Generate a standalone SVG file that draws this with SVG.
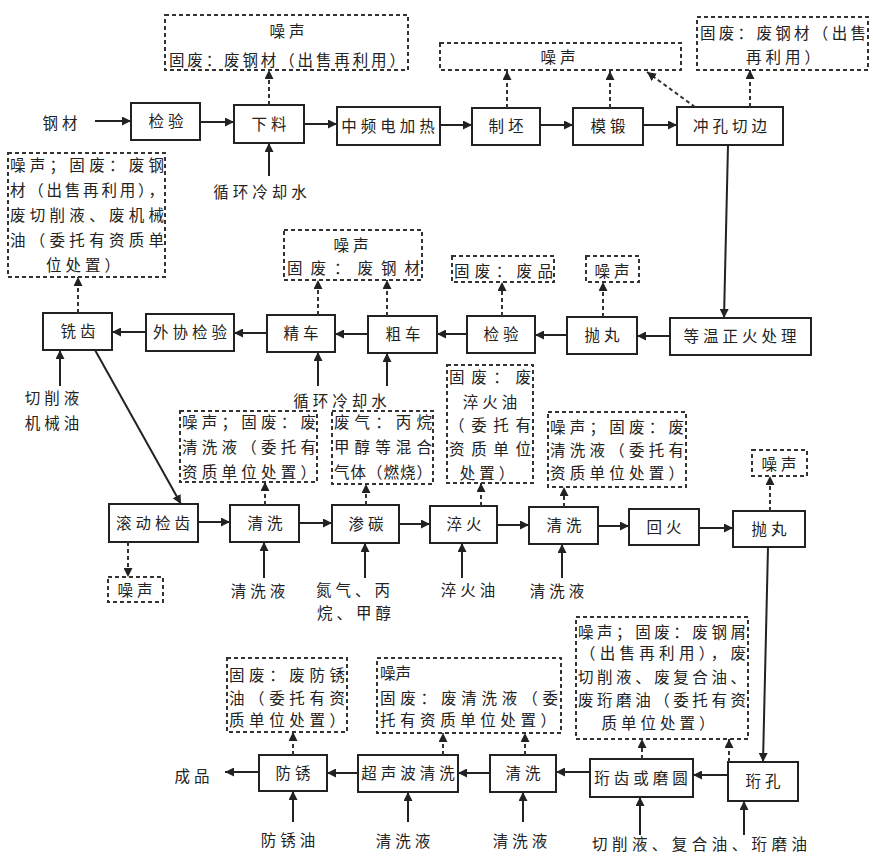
<svg xmlns="http://www.w3.org/2000/svg" width="873" height="856" viewBox="0 0 873 856">
<defs>
<marker id="a" viewBox="0 0 10 10" refX="10" refY="5" markerWidth="9" markerHeight="9" markerUnits="userSpaceOnUse" orient="auto"><path d="M0,0 L10,5 L0,10 z" fill="#222"/></marker>
</defs>
<style>
.n{fill:#fff;stroke:#222;stroke-width:2}
.d{fill:#fff;stroke:#333;stroke-width:2;stroke-dasharray:4 3}
text{font-family:"Noto Sans CJK SC","Noto Sans CJK JP",sans-serif;font-size:15.5px;fill:#222}
.c{text-anchor:middle;letter-spacing:4px}
.s{stroke:#222;stroke-width:2;fill:none;marker-end:url(#a)}
.k{stroke:#333;stroke-width:2;fill:none;stroke-dasharray:4 3;marker-end:url(#a)}
</style>
<rect width="873" height="856" fill="#fff"/>

<!-- Row 1 nodes -->
<g id="jianyan1"><rect class="n" x="131" y="103" width="69" height="37"/><text class="c" x="168" y="127">检验</text></g>
<g id="xialiao"><rect class="n" x="234" y="105" width="70" height="38"/><text class="c" x="271" y="130">下料</text></g>
<g id="zhongpin"><rect class="n" x="337" y="107" width="103" height="38"/><text class="c" x="390" y="132">中频电加热</text></g>
<g id="zhipi"><rect class="n" x="472" y="108" width="68" height="37"/><text class="c" x="508" y="132">制坯</text></g>
<g id="moduan"><rect class="n" x="573" y="108" width="70" height="37"/><text class="c" x="610" y="132">模锻</text></g>
<g id="chongkong"><rect class="n" x="677" y="107" width="106" height="38"/><text class="c" x="732" y="132">冲孔切边</text></g>

<!-- Row 1 dashed boxes -->
<g id="w1"><rect class="d" x="165" y="15" width="243" height="55"/><text class="c" x="289" y="37">噪声</text><text x="169" y="66" textLength="236">固废：废钢材（出售再利用）</text></g>
<g id="w2"><rect class="d" x="440" y="43" width="241" height="27"/><text class="c" x="560" y="63">噪声</text></g>
<g id="w3"><rect class="d" x="697" y="17" width="171" height="53"/><text x="700" y="39" textLength="166">固废：废钢材（出售</text><text class="c" x="785" y="63">再利用）</text></g>

<!-- Row 2 nodes -->
<g id="zhenghuo"><rect class="n" x="670" y="318" width="141" height="37"/><text class="c" x="742" y="342">等温正火处理</text></g>
<g id="paowan1"><rect class="n" x="567" y="317" width="70" height="37"/><text class="c" x="604" y="341">抛丸</text></g>
<g id="jianyan2"><rect class="n" x="467" y="316" width="68" height="37"/><text class="c" x="503" y="340">检验</text></g>
<g id="cuche"><rect class="n" x="368" y="316" width="69" height="37"/><text class="c" x="405" y="340">粗车</text></g>
<g id="jingche"><rect class="n" x="267" y="315" width="68" height="37"/><text class="c" x="303" y="339">精车</text></g>
<g id="waixie"><rect class="n" x="146" y="314" width="88" height="37"/><text class="c" x="192" y="338">外协检验</text></g>
<g id="xichi"><rect class="n" x="43" y="313" width="69" height="37"/><text class="c" x="80" y="337">铣齿</text></g>

<!-- Row 2 dashed boxes -->
<g id="w4"><rect class="d" x="8" y="153" width="157" height="124"/>
<text x="10" y="171" textLength="154">噪声；固废：废钢</text>
<text x="10" y="196" textLength="154">材（出售再利用），</text>
<text x="10" y="221" textLength="154">废切削液、废机械</text>
<text x="10" y="246" textLength="154">油（委托有资质单</text>
<text class="c" x="85" y="271">位处置）</text></g>
<g id="w5"><rect class="d" x="284" y="230" width="138" height="50"/><text class="c" x="353" y="251">噪声</text><text x="287" y="274" textLength="133">固废：废钢材</text></g>
<g id="w6"><rect class="d" x="452" y="256" width="102" height="26"/><text x="454" y="277" textLength="99">固废：废品</text></g>
<g id="w7"><rect class="d" x="586" y="256" width="53" height="26"/><text class="c" x="614" y="277">噪声</text></g>

<!-- Row 3 nodes -->
<g id="gundong"><rect class="n" x="109" y="504" width="89" height="38"/><text class="c" x="155" y="529">滚动检齿</text></g>
<g id="qingxi1"><rect class="n" x="230" y="505" width="69" height="37"/><text class="c" x="267" y="529">清洗</text></g>
<g id="shentan"><rect class="n" x="332" y="505" width="67" height="38"/><text class="c" x="368" y="530">渗碳</text></g>
<g id="cuihuo"><rect class="n" x="430" y="506" width="67" height="37"/><text class="c" x="466" y="530">淬火</text></g>
<g id="qingxi2"><rect class="n" x="529" y="507" width="69" height="37"/><text class="c" x="566" y="531">清洗</text></g>
<g id="huihuo"><rect class="n" x="629" y="509" width="70" height="36"/><text class="c" x="666" y="533">回火</text></g>
<g id="paowan2"><rect class="n" x="733" y="511" width="72" height="36"/><text class="c" x="771" y="535">抛丸</text></g>

<!-- Row 3 dashed boxes -->
<g id="w8"><rect class="d" x="180" y="411" width="137" height="71"/>
<text x="182" y="428" textLength="134">噪声；固废：废</text>
<text x="182" y="453" textLength="134">清洗液（委托有</text>
<text x="182" y="478" textLength="134">资质单位处置）</text></g>
<g id="w9"><rect class="d" x="332" y="411" width="101" height="73"/>
<text x="334" y="428" textLength="98">废气：丙烷</text>
<text x="334" y="453" textLength="98">甲醇等混合</text>
<text x="334" y="478" textLength="98">气体（燃烧）</text></g>
<g id="w10"><rect class="d" x="447" y="365" width="86" height="118"/>
<text x="449" y="383" textLength="82">固废：废</text>
<text class="c" x="492" y="408">淬火油</text>
<text x="449" y="431" textLength="82">（委托有</text>
<text x="449" y="455" textLength="82">资质单位</text>
<text class="c" x="489" y="479">处置）</text></g>
<g id="w11"><rect class="d" x="548" y="412" width="138" height="75"/>
<text x="550" y="433" textLength="134">噪声；固废：废</text>
<text x="550" y="456" textLength="134">清洗液（委托有</text>
<text x="550" y="479" textLength="134">资质单位处置）</text></g>
<g id="w12"><rect class="d" x="752" y="450" width="55" height="26"/><text class="c" x="781" y="470">噪声</text></g>
<g id="w13"><rect class="d" x="108" y="577" width="55" height="25"/><text class="c" x="137" y="596">噪声</text></g>

<!-- Row 4 nodes -->
<g id="honkong"><rect class="n" x="728" y="762" width="70" height="39"/><text class="c" x="765" y="787">珩孔</text></g>
<g id="honchi"><rect class="n" x="590" y="759" width="103" height="38"/><text class="c" x="643" y="784">珩齿或磨圆</text></g>
<g id="qingxi3"><rect class="n" x="490" y="755" width="66" height="37"/><text class="c" x="525" y="779">清洗</text></g>
<g id="chaosheng"><rect class="n" x="358" y="755" width="100" height="37"/><text class="c" x="410" y="779">超声波清洗</text></g>
<g id="fangxiu"><rect class="n" x="259" y="755" width="68" height="36"/><text class="c" x="295" y="779">防锈</text></g>

<!-- Row 4 dashed boxes -->
<g id="w14"><rect class="d" x="227" y="658" width="120" height="74"/>
<text x="229" y="681" textLength="116">固废：废防锈</text>
<text x="229" y="704" textLength="116">油（委托有资</text>
<text x="229" y="726" textLength="116">质单位处置）</text></g>
<g id="w15"><rect class="d" x="377" y="658" width="184" height="75"/>
<text x="380" y="679">噪声</text>
<text x="380" y="704" textLength="178">固废：废清洗液（委</text>
<text x="380" y="726" textLength="176">托有资质单位处置）</text></g>
<g id="w16"><rect class="d" x="576" y="617" width="172" height="122"/>
<text x="578" y="638" textLength="168">噪声；固废：废钢屑</text>
<text x="580" y="659" textLength="166">（出售再利用），废</text>
<text x="578" y="683" textLength="168">切削液、废复合油、</text>
<text x="578" y="706" textLength="168">废珩磨油（委托有资</text>
<text class="c" x="660" y="729">质单位处置）</text></g>

<!-- Free labels -->
<g id="labels">
<text class="c" x="62" y="129">钢材</text>
<text class="c" x="262" y="198">循环冷却水</text>
<text class="c" x="342" y="407">循环冷却水</text>
<text class="c" x="54" y="404">切削液</text>
<text class="c" x="54" y="429">机械油</text>
<text class="c" x="260" y="597">清洗液</text>
<text class="c" x="355" y="596">氮气、丙</text>
<text class="c" x="356" y="619">烷、甲醇</text>
<text class="c" x="470" y="596">淬火油</text>
<text class="c" x="559" y="597">清洗液</text>
<text class="c" x="194" y="782">成品</text>
<text class="c" x="290" y="846">防锈油</text>
<text class="c" x="405" y="847">清洗液</text>
<text class="c" x="522" y="847">清洗液</text>
<text x="592" y="850" textLength="215">切削液、复合油、珩磨油</text>
</g>

<!-- Connectors -->
<g id="connectors">
<line class="s" x1="95" y1="121" x2="131" y2="121"/>
<line class="s" x1="200" y1="122" x2="234" y2="122"/>
<line class="s" x1="304" y1="124" x2="337" y2="124"/>
<line class="s" x1="440" y1="125" x2="472" y2="125"/>
<line class="s" x1="540" y1="125" x2="573" y2="125"/>
<line class="s" x1="643" y1="125" x2="677" y2="125"/>
<line class="s" x1="269" y1="176" x2="269" y2="143"/>
<line class="k" x1="269" y1="105" x2="269" y2="70"/>
<line class="k" x1="507" y1="108" x2="507" y2="71"/>
<line class="k" x1="610" y1="108" x2="610" y2="71"/>
<line class="k" x1="695" y1="107" x2="647" y2="72"/>
<line class="k" x1="750" y1="107" x2="750" y2="70"/>
<line class="s" x1="728" y1="145" x2="724" y2="318"/>

<line class="s" x1="670" y1="336" x2="637" y2="336"/>
<line class="s" x1="567" y1="335" x2="535" y2="335"/>
<line class="s" x1="467" y1="334" x2="437" y2="334"/>
<line class="s" x1="368" y1="334" x2="335" y2="334"/>
<line class="s" x1="267" y1="333" x2="234" y2="333"/>
<line class="s" x1="146" y1="332" x2="112" y2="332"/>
<line class="k" x1="78" y1="313" x2="78" y2="277"/>
<line class="k" x1="318" y1="315" x2="318" y2="280"/>
<line class="k" x1="387" y1="316" x2="387" y2="280"/>
<line class="k" x1="502" y1="316" x2="502" y2="282"/>
<line class="k" x1="603" y1="317" x2="603" y2="282"/>
<line class="s" x1="318" y1="386" x2="318" y2="352"/>
<line class="s" x1="387" y1="386" x2="387" y2="353"/>
<line class="s" x1="60" y1="386" x2="60" y2="350"/>
<line class="s" x1="95" y1="350" x2="181" y2="504"/>

<line class="s" x1="198" y1="522" x2="230" y2="522"/>
<line class="s" x1="299" y1="523" x2="332" y2="523"/>
<line class="s" x1="399" y1="524" x2="430" y2="524"/>
<line class="s" x1="497" y1="525" x2="529" y2="525"/>
<line class="s" x1="598" y1="526" x2="629" y2="526"/>
<line class="s" x1="699" y1="528" x2="733" y2="528"/>
<line class="k" x1="265" y1="505" x2="265" y2="482"/>
<line class="k" x1="366" y1="505" x2="366" y2="484"/>
<line class="k" x1="481" y1="506" x2="481" y2="483"/>
<line class="k" x1="564" y1="507" x2="564" y2="487"/>
<line class="k" x1="770" y1="511" x2="770" y2="476"/>
<line class="k" x1="128" y1="542" x2="128" y2="577"/>
<line class="s" x1="264" y1="578" x2="264" y2="542"/>
<line class="s" x1="365" y1="578" x2="365" y2="543"/>
<line class="s" x1="462" y1="578" x2="462" y2="543"/>
<line class="s" x1="562" y1="578" x2="562" y2="544"/>
<line class="s" x1="768" y1="547" x2="763" y2="762"/>

<line class="s" x1="728" y1="775" x2="693" y2="775"/>
<line class="s" x1="590" y1="772" x2="556" y2="772"/>
<line class="s" x1="490" y1="773" x2="458" y2="773"/>
<line class="s" x1="358" y1="773" x2="327" y2="773"/>
<line class="s" x1="259" y1="772" x2="225" y2="772"/>
<line class="k" x1="293" y1="755" x2="293" y2="732"/>
<line class="k" x1="443" y1="755" x2="443" y2="733"/>
<line class="k" x1="525" y1="755" x2="525" y2="733"/>
<line class="k" x1="642" y1="759" x2="642" y2="739"/>
<line class="k" x1="729" y1="762" x2="729" y2="739"/>
<line class="s" x1="293" y1="822" x2="293" y2="791"/>
<line class="s" x1="408" y1="822" x2="408" y2="792"/>
<line class="s" x1="523" y1="822" x2="523" y2="792"/>
<line class="s" x1="640" y1="835" x2="640" y2="797"/>
<line class="s" x1="744" y1="835" x2="744" y2="801"/>
</g>
</svg>
